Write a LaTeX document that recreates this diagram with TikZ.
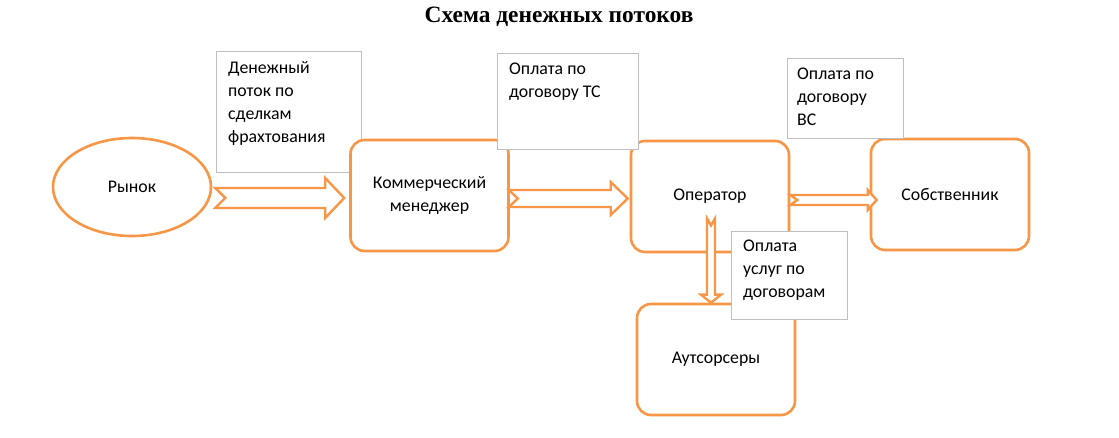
\documentclass[tikz,border=0pt]{standalone}
\usepackage{fontspec}
\setmainfont{Carlito}
\newfontfamily\titlefont{Liberation Serif}
\usetikzlibrary{calc,shapes.geometric}
\definecolor{orng}{HTML}{F79646}
\definecolor{lgray}{HTML}{BFBFBF}
\tikzset{
  flowbox/.style={draw=orng, line width=2.6pt, rounded corners=14pt, fill=white, minimum width=158pt, minimum height=111pt, align=center, font=\fontsize{17.8}{23}\selectfont, inner sep=0pt},
  mkt/.style={draw=orng, line width=2.6pt, ellipse, fill=white, minimum width=158pt, minimum height=98pt, font=\fontsize{17.8}{23}\selectfont},
  lblbox/.style={draw=lgray, line width=0.8pt, fill=white, inner sep=0pt},
  lbltext/.style={anchor=north west, inner sep=0pt, align=left, font=\fontsize{17.8}{23}\selectfont},
  barrow/.style={draw=orng, line width=2.4pt, fill=white, line join=miter, miter limit=10},
}
% horizontal notched block arrow: tail, tip, shaft half, head half, head length, notch
\newcommand{\hbarrow}[6]{%
  \draw[barrow] let \p1=(#1), \p2=(#2) in
    (\x1,\y1+#3) -- (\x2-#5,\y1+#3) -- (\x2-#5,\y1+#4) -- (\x2,\y1)
    -- (\x2-#5,\y1-#4) -- (\x2-#5,\y1-#3) -- (\x1,\y1-#3) -- (\x1+#6,\y1) -- cycle;}
\newcommand{\vbarrow}[6]{%
  \draw[barrow] let \p1=(#1), \p2=(#2) in
    (\x1+#3,\y1) -- (\x1+#3,\y2+#5) -- (\x1+#4,\y2+#5) -- (\x1,\y2)
    -- (\x1-#4,\y2+#5) -- (\x1-#3,\y2+#5) -- (\x1-#3,\y1) -- (\x1,\y1-#6) -- cycle;}
\begin{document}
\begin{tikzpicture}[x=1pt,y=-1pt]
\useasboundingbox[fill=white] (0,0) rectangle (1119,438);
\node[font=\titlefont\bfseries\fontsize{23.4}{28}\selectfont] (title) at (559,17) {Схема денежных потоков};
% label 1 (behind the manager box)
\node[lblbox, minimum width=145pt, minimum height=121pt] (l1) at (288.5,111.5) {};
\node[lbltext] (l1t) at (228,61) {Денежный\\поток по\\сделкам\\фрахтования};
% main nodes
\node[mkt] (rynok) at (132,187) {Рынок};
\node[flowbox] (mk) at (429.5,195.5) {Коммерческий\\менеджер};
\node[flowbox] (op) at (710,196.5) {Оператор};
\node[flowbox] (own) at (950,194.5) {Собственник};
\node[flowbox] (out) at (716,359.5) {Аутсорсеры};
% arrow end points
\coordinate (a1s) at ($(rynok.east)+(3,11)$);
\coordinate (a1e) at ($(mk.west)+(-5,2.5)$);
\coordinate (a2s) at ($(mk.east)+(-1,3)$);
\coordinate (a2e) at ($(op.west)+(-2,2)$);
\coordinate (a3s) at ($(op.east)+(0,3.5)$);
\coordinate (a3e) at ($(own.west)+(7,5.5)$);
\coordinate (a4s) at ($(op.center)+(1,22)$);
\coordinate (a4e) at ($(out.north)+(-5,0)$);
\hbarrow{a1s}{a1e}{10}{20}{19}{10}
\hbarrow{a2s}{a2e}{8.5}{16.5}{17}{9}
\hbarrow{a3s}{a3e}{5}{10}{9}{7}
\vbarrow{a4s}{a4e}{4}{10}{8}{7}
% labels on top
\node[lblbox, minimum width=141pt, minimum height=96pt] (l2) at (567.5,101) {};
\node[lbltext] (l2t) at (509,63) {Оплата по\\договору ТС};
\node[lblbox, minimum width=116pt, minimum height=80pt] (l3) at (845,98) {};
\node[lbltext] (l3t) at (797,68) {Оплата по\\договору\\ВС};
\node[lblbox, minimum width=116pt, minimum height=88pt] (l4) at (789,275) {};
\node[lbltext] (l4t) at (743,240) {Оплата\\услуг по\\договорам};
\end{tikzpicture}
\end{document}
